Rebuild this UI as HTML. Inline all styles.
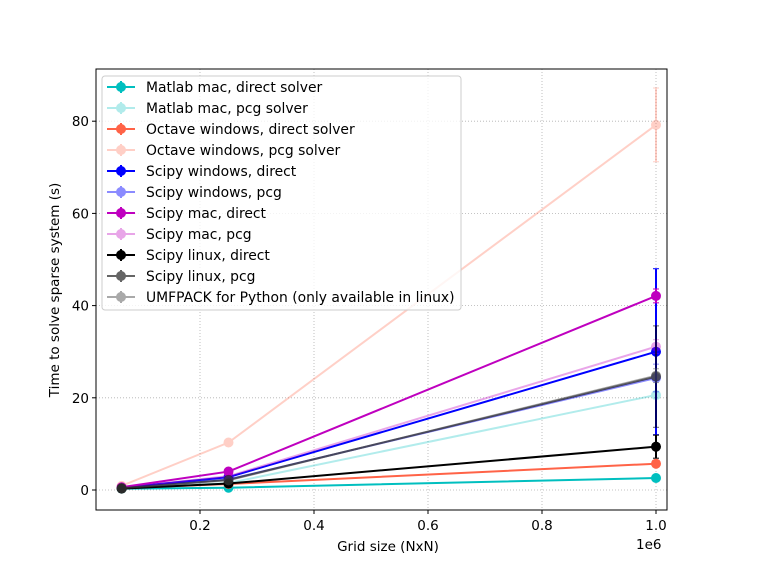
<!DOCTYPE html>
<html><head><meta charset="utf-8"><style>
body{margin:0;background:#fff;font-family:"Liberation Sans","DejaVu Sans",sans-serif}
</style></head><body>
<svg id="chart" width="757" height="573" xmlns="http://www.w3.org/2000/svg" font-family="DejaVu Sans, Liberation Sans, sans-serif">
<rect width="757" height="573" fill="#fff"/>
<g id="grid"></g>
<g id="series"></g>
<rect x="96" y="69" width="571" height="441" fill="none" stroke="#000" stroke-width="1"/>
<g id="axes" font-size="13.5"></g>
<text x="388" y="551" text-anchor="middle" font-size="13.5">Grid size (NxN)</text>
<text x="636" y="549" font-size="13.5">1e6</text>
<text transform="translate(59,290) rotate(-90)" text-anchor="middle" font-size="13.5">Time to solve sparse system (s)</text>
<g id="legend"></g>
</svg>
<script>
const gridSizes = [0.0625, 0.25, 1.0];
const seriesNames = ["Matlab mac, direct solver","Matlab mac, pcg solver","Octave windows, direct solver","Octave windows, pcg solver","Scipy windows, direct","Scipy windows, pcg","Scipy mac, direct","Scipy mac, pcg","Scipy linux, direct","Scipy linux, pcg","UMFPACK for Python (only available in linux)"];
const seriesColors = ["#00bfbf","#00bfbf","#ff6347","#ff6347","#0000ff","#0000ff","#bf00bf","#bf00bf","#000000","#000000","#555555"];
const seriesAlpha = [1,0.3,1,0.3,1,0.45,1,0.35,1,0.6,0.5];
const matlabDirect = [0.3, 0.5, 2.6];
const matlabPcg = [0.4, 1.5, 20.6];
const octaveDirect = [0.4, 1.3, 5.7];
const octavePcg = [0.9, 10.3, 79.2];
const scipyWinDirect = [0.5, 2.8, 30.0];
const scipyWinPcg = [0.5, 2.3, 24.3];
const scipyMacDirect = [0.6, 4.0, 42.1];
const scipyMacPcg = [0.5, 3.0, 31.1];
const scipyLinuxDirect = [0.3, 1.4, 9.4];
const scipyLinuxPcg = [0.4, 2.2, 24.6];
const umfpack = [0.4, 2.1, 24.8];
const errLast = [0.3, 0.8, 0.5, 8, 18, 3, 1.5, 1.5, 2.5, 11, 1.5];
const xTicks = [0.2, 0.4, 0.6, 0.8, 1.0];
const yTicks = [0, 20, 40, 60, 80];
const allSeries = [matlabDirect,matlabPcg,octaveDirect,octavePcg,scipyWinDirect,scipyWinPcg,scipyMacDirect,scipyMacPcg,scipyLinuxDirect,scipyLinuxPcg,umfpack];

const NS="http://www.w3.org/2000/svg";
const xs = v => 86 + v*570;
const ys = v => 490 - v*4.61;
function mk(tag, attrs, parent){const e=document.createElementNS(NS,tag);for(const k in attrs)e.setAttribute(k,attrs[k]);parent.appendChild(e);return e;}
const grid=document.getElementById('grid'), axes=document.getElementById('axes'), ser=document.getElementById('series'), leg=document.getElementById('legend');
xTicks.forEach(t=>{
  const x=xs(t);
  const g=mk('line',{x1:x,x2:x,y1:69,y2:510,stroke:'#b0b0b0','stroke-dasharray':'1,2','stroke-width':0.8},grid);
  
  
  mk('line',{x1:x,x2:x,y1:510,y2:514,stroke:'#000'},axes);
  const tx=mk('text',{x:x,y:530,'text-anchor':'middle'},axes);
  tx.textContent=t.toFixed(1);
  
  
});
yTicks.forEach(t=>{
  const y=ys(t);
  const g=mk('line',{x1:96,x2:667,y1:y,y2:y,stroke:'#b0b0b0','stroke-dasharray':'1,2','stroke-width':0.8},grid);
  
  
  mk('line',{x1:92,x2:96,y1:y,y2:y,stroke:'#000'},axes);
  const tx=mk('text',{x:89,y:y+5,'text-anchor':'end'},axes);
  tx.textContent=t;
  
  
});
allSeries.forEach((vals,i)=>{
  const g=mk('g',{opacity:seriesAlpha[i]},ser);
  
  
  const c=seriesColors[i];
  mk('polyline',{points:vals.map((v,j)=>xs(gridSizes[j])+','+ys(v)).join(' '),fill:'none',stroke:c,'stroke-width':2},g);
  const xl=xs(gridSizes[2]), e=errLast[i], v=vals[2];
  mk('line',{x1:xl,x2:xl,y1:ys(v+e),y2:ys(v-e),stroke:c,'stroke-width':2},g);
  mk('line',{x1:xl-3,x2:xl+3,y1:ys(v+e),y2:ys(v+e),stroke:c},g);
  mk('line',{x1:xl-3,x2:xl+3,y1:ys(v-e),y2:ys(v-e),stroke:c},g);
  vals.forEach((v,j)=>{
    const p=mk('circle',{cx:xs(gridSizes[j]),cy:ys(v),r:5,fill:c},g);
    
    
  });
});
mk('rect',{x:102,y:76,width:359,height:234,rx:3,fill:'#fff','fill-opacity':0.8,stroke:'#ccc'},leg);
seriesNames.forEach((n,i)=>{
  const y=87+i*21, c=seriesColors[i];
  const g=mk('g',{},leg);
  
  
  const s=mk('g',{opacity:seriesAlpha[i]},g);
  mk('line',{x1:107,x2:135,y1:y,y2:y,stroke:c,'stroke-width':2},s);
  mk('line',{x1:121,x2:121,y1:y-6,y2:y+6,stroke:c,'stroke-width':2},s);
  mk('circle',{cx:121,cy:y,r:5,fill:c},s);
  const t=mk('text',{x:146,y:y+5,'font-size':13.9},g);
  t.textContent=n;
});
</script>
</body></html>
